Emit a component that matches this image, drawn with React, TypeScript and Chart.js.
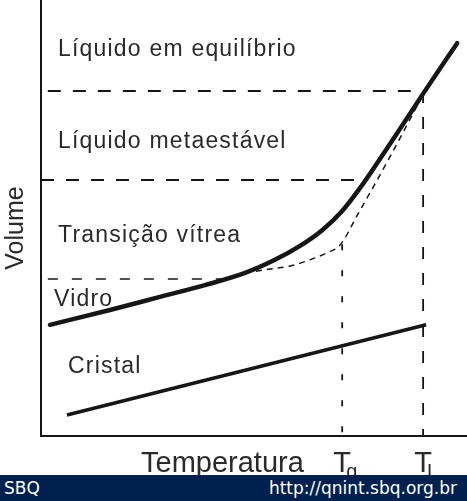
import React, { useEffect, useRef } from 'react';
import { Chart, registerables } from 'chart.js';

Chart.register(...registerables);

// Unidades arbitrárias: temperatura 0–100, volume 0–100
const curvaRapidaT = [2.1, 16.2, 27.9, 38.5, 47.9, 54.9, 60.8, 66.0, 70.7, 74.9, 79.6, 84.3, 90.1, 97.7];
const curvaRapidaV = [25.5, 28.9, 31.9, 34.6, 37.4, 40.4, 43.6, 47.2, 51.6, 56.9, 63.6, 70.5, 79.1, 90.1];

const curvaLentaT = [47.9, 53.8, 58.5, 63.1, 67.1, 70.2, 74.4, 81.9, 90.1];
const curvaLentaV = [37.4, 38.3, 39.0, 40.4, 42.0, 43.8, 50.9, 64.0, 79.1];

const cristalT = [6.1, 90.4];
const cristalV = [4.8, 25.5];

const Tg = 70.7;
const TL = 89.7;
const volumeTg = 44.0;
const volumeTL = 79.1;
const volumeMetaestavel = 58.7;
const fimMetaestavel = 76.0;
const volumeVidro = 36.0;
const fimVidro = 43.0;

const regioes = ['Líquido em equilíbrio', 'Líquido metaestável', 'Transição vítrea', 'Vidro', 'Cristal'];
const tituloX = 'Temperatura';
const tituloY = 'Volume';
const rotulosT = [
  { base: 'T', sub: 'g', valor: Tg },
  { base: 'T', sub: 'L', valor: TL },
];

const pts = (xs: number[], ys: number[]) => xs.map((x, i) => ({ x, y: ys[i] }));

const INK = '#161616';
const TEXT = '#2a2a2a';
const FONT = '"Liberation Sans", Arial, sans-serif';

const posRegioes = [
  [58, 56],
  [58, 148],
  [58, 242],
  [54, 306],
  [68, 373],
];

const rotulosPlugin = {
  id: 'rotulos',
  afterDraw(chart: any) {
    const ctx = chart.ctx as any;
    const xs = chart.scales.x;
    ctx.save();
    ctx.fillStyle = TEXT;
    ctx.textBaseline = 'alphabetic';
    ctx.textAlign = 'left';
    ctx.font = `23px ${FONT}`;
    ctx.letterSpacing = '1.2px';
    regioes.forEach((t, i) => ctx.fillText(t, posRegioes[i][0], posRegioes[i][1]));
    ctx.letterSpacing = '0px';

    ctx.font = `29px ${FONT}`;
    ctx.fillText(tituloX, 141, 472);

    rotulosT.forEach((r) => {
      const px = xs.getPixelForValue(r.valor);
      ctx.font = `29px ${FONT}`;
      ctx.textAlign = 'center';
      ctx.fillText(r.base, px, 472);
      ctx.textAlign = 'left';
      ctx.font = `20px ${FONT}`;
      ctx.fillText(r.sub, px + 4, 478);
    });

    ctx.translate(23, 228);
    ctx.rotate(-Math.PI / 2);
    ctx.textAlign = 'center';
    ctx.font = `25px ${FONT}`;
    ctx.fillText(tituloY, 0, 0);
    ctx.restore();
  },
};

export default function App() {
  const ref = useRef<HTMLCanvasElement | null>(null);

  useEffect(() => {
    document.body.style.margin = '0';
    const canvas = ref.current;
    if (!canvas) return;
    const dashedRef = (data: any[], dash: number[], width: number) => ({
      data,
      borderColor: INK,
      borderWidth: width,
      borderDash: dash,
      pointRadius: 0,
      showLine: true,
      tension: 0,
      fill: false,
    });
    const chart = new Chart(canvas, {
      type: 'scatter',
      data: {
        datasets: [
          {
            data: pts(curvaRapidaT, curvaRapidaV),
            borderColor: INK,
            borderWidth: 4.5,
            pointRadius: 0,
            showLine: true,
            cubicInterpolationMode: 'monotone',
            borderCapStyle: 'round',
          } as any,
          {
            data: pts(cristalT, cristalV),
            borderColor: INK,
            borderWidth: 3.5,
            pointRadius: 0,
            showLine: true,
          },
          {
            data: pts(curvaLentaT, curvaLentaV),
            borderColor: INK,
            borderWidth: 1.5,
            borderDash: [6, 5],
            pointRadius: 0,
            showLine: true,
            cubicInterpolationMode: 'monotone',
          } as any,
          dashedRef([{ x: 1.6, y: volumeTL }, { x: TL, y: volumeTL }], [13, 12], 2),
          dashedRef([{ x: 0, y: volumeMetaestavel }, { x: fimMetaestavel, y: volumeMetaestavel }], [13, 12], 2),
          dashedRef([{ x: 1.6, y: volumeVidro }, { x: fimVidro, y: volumeVidro }], [10, 14], 1.5),
          dashedRef([{ x: Tg, y: volumeTg }, { x: Tg, y: 0 }], [6, 20], 1.8),
          dashedRef([{ x: TL, y: volumeTL }, { x: TL, y: 0 }], [12, 14], 1.8),
        ],
      },
      options: {
        animation: false,
        responsive: true,
        maintainAspectRatio: false,
        layout: { padding: { left: 41, right: 0, top: 0, bottom: 39 } },
        plugins: { legend: { display: false }, tooltip: { enabled: false } },
        scales: {
          x: {
            type: 'linear',
            min: 0,
            max: 100,
            ticks: { display: false },
            grid: { display: false, drawTicks: false },
            border: { display: true, color: INK, width: 2 },
          },
          y: {
            type: 'linear',
            min: 0,
            max: 100,
            ticks: { display: false },
            grid: { display: false, drawTicks: false },
            border: { display: true, color: INK, width: 2 },
          },
        },
      },
      plugins: [rotulosPlugin],
    } as any);
    return () => chart.destroy();
  }, []);

  return (
    <div style={{ width: 467, height: 501, position: 'relative', background: '#fff' }}>
      <div style={{ width: 467, height: 475, position: 'relative' }}>
        <canvas ref={ref} />
      </div>
      <div
        style={{
          height: 26,
          width: 467,
          background: '#00214f',
          color: '#fff',
          fontFamily: '"DejaVu Sans", sans-serif',
          fontSize: 17,
          lineHeight: '26px',
          display: 'flex',
          justifyContent: 'space-between',
          padding: '0 10px 0 4px',
          boxSizing: 'border-box',
        }}
      >
        <span>SBQ</span>
        <span>http://qnint.sbq.org.br</span>
      </div>
    </div>
  );
}
